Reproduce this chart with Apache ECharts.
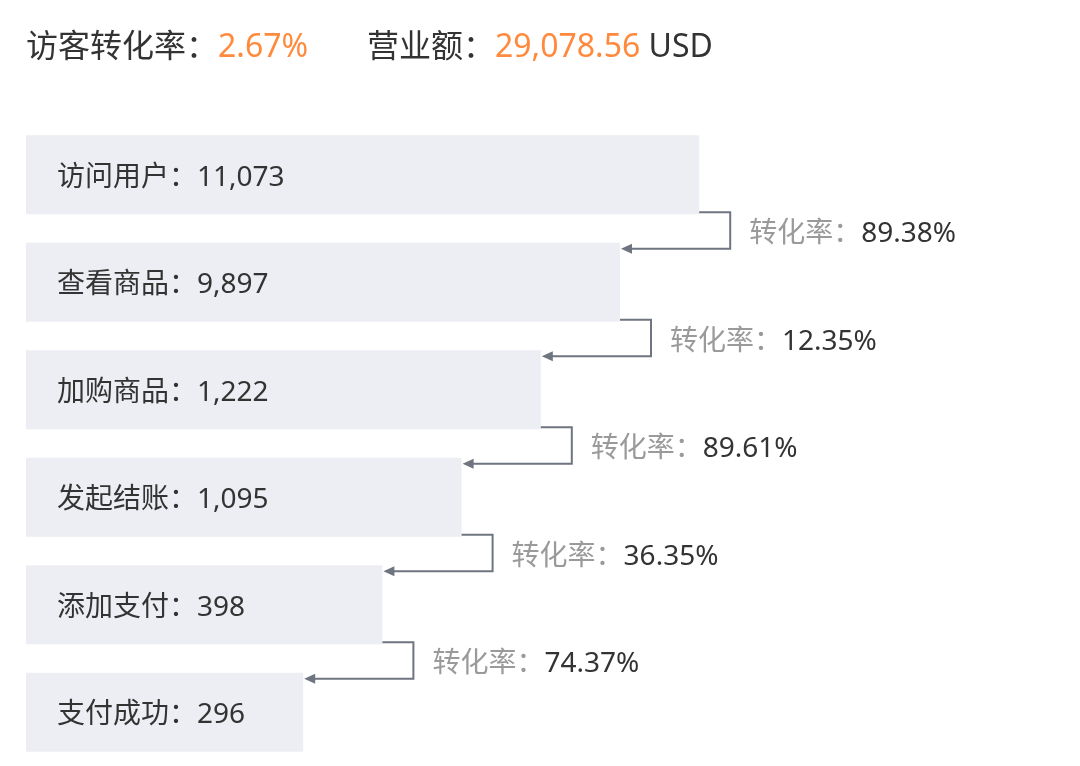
<!DOCTYPE html>
<html>
<head>
<meta charset="utf-8">
<script src="https://cdn.jsdelivr.net/npm/echarts@6/dist/echarts.min.js"></script>
<style>html,body{margin:0;padding:0;background:#fff}#c{width:1080px;height:766px}</style>
</head>
<body>
<div id="c"></div>
<script>
// ---- data ----
var stages = ['访问用户', '查看商品', '加购商品', '发起结账', '添加支付', '支付成功'];
var counts = [11073, 9897, 1222, 1095, 398, 296];
var stepRates = ['89.38%', '12.35%', '89.61%', '36.35%', '74.37%'];
var visitorRate = '2.67%';
var revenue = '29,078.56';
var currency = 'USD';

// ---- layout helpers ----
var FONT = '"Noto Sans", "Noto Sans CJK SC", sans-serif';
var BAR_H = 79;
// funnel step lengths (display rank, not proportional to values)
var levels = stages.map(function (s, i) { return stages.length - i + 2.5; });

function fmt(n) { return n.toLocaleString('en-US'); }

var chart = echarts.init(document.getElementById('c'));
chart.setOption({
  backgroundColor: '#fff',
  animation: false,
  title: [{
    left: 26, top: 32, padding: 0,
    text: '{a|访客转化率：}{b|' + visitorRate + '}',
    textStyle: { fontWeight: 'normal', rich: {
      a: { fontSize: 32, color: '#333', fontFamily: FONT, fontWeight: 'normal' },
      b: { fontSize: 32, color: '#FF8A3D', fontFamily: FONT, fontWeight: 'normal' }
    } }
  }, {
    left: 367, top: 32, padding: 0,
    text: '{a|营业额：}{b|' + revenue + '}{a| ' + currency + '}',
    textStyle: { fontWeight: 'normal', rich: {
      a: { fontSize: 32, color: '#333', fontFamily: FONT, fontWeight: 'normal' },
      b: { fontSize: 32, color: '#FF8A3D', fontFamily: FONT, fontWeight: 'normal' }
    } }
  }],
  grid: { left: 26, right: 262, top: 121, bottom: 0 },
  xAxis: { type: 'value', min: 0, max: 10, show: false },
  yAxis: { type: 'category', data: stages, inverse: true, show: false },
  series: [{
    type: 'bar',
    barWidth: BAR_H,
    data: levels,
    itemStyle: { color: '#EDEEF3' },
    silent: true,
    label: {
      show: true,
      position: [31, '50%'],
      offset: [0, 3],
      verticalAlign: 'middle',
      align: 'left',
      fontSize: 28,
      color: '#333',
      fontFamily: FONT,
      formatter: function (p) { return stages[p.dataIndex] + '：' + fmt(counts[p.dataIndex]); }
    }
  }, {
    type: 'custom',
    clip: false,
    silent: true,
    z: 5,
    data: stepRates.map(function (r, i) { return [i, r]; }),
    renderItem: function (params, api) {
      var i = api.value(0);
      var a = api.coord([levels[i], i]);
      var b = api.coord([levels[i + 1], i + 1]);
      var y1 = a[1] + BAR_H / 2 - 2;
      var y2 = b[1] - BAR_H / 2 + 6;
      var xv = a[0] + 31;
      var tip = b[0] + 1;
      var col = '#6E7480';
      return {
        type: 'group',
        children: [{
          type: 'polyline',
          shape: { points: [[a[0], y1], [xv, y1], [xv, y2], [tip + 8, y2]] },
          style: { stroke: col, lineWidth: 2, fill: null }
        }, {
          type: 'polygon',
          shape: { points: [[tip, y2], [tip + 11, y2 - 5], [tip + 11, y2 + 5]] },
          style: { fill: col }
        }, {
          type: 'text',
          style: {
            x: xv + 19, y: (y1 + y2) / 2 + 4,
            text: '{a|转化率：}{b|' + stepRates[i] + '}',
            verticalAlign: 'middle',
            rich: {
              a: { fontSize: 28, fill: '#9A9A9A', fontFamily: FONT },
              b: { fontSize: 28, fill: '#333333', fontFamily: FONT }
            }
          }
        }]
      };
    }
  }]
});
</script>
</body>
</html>
